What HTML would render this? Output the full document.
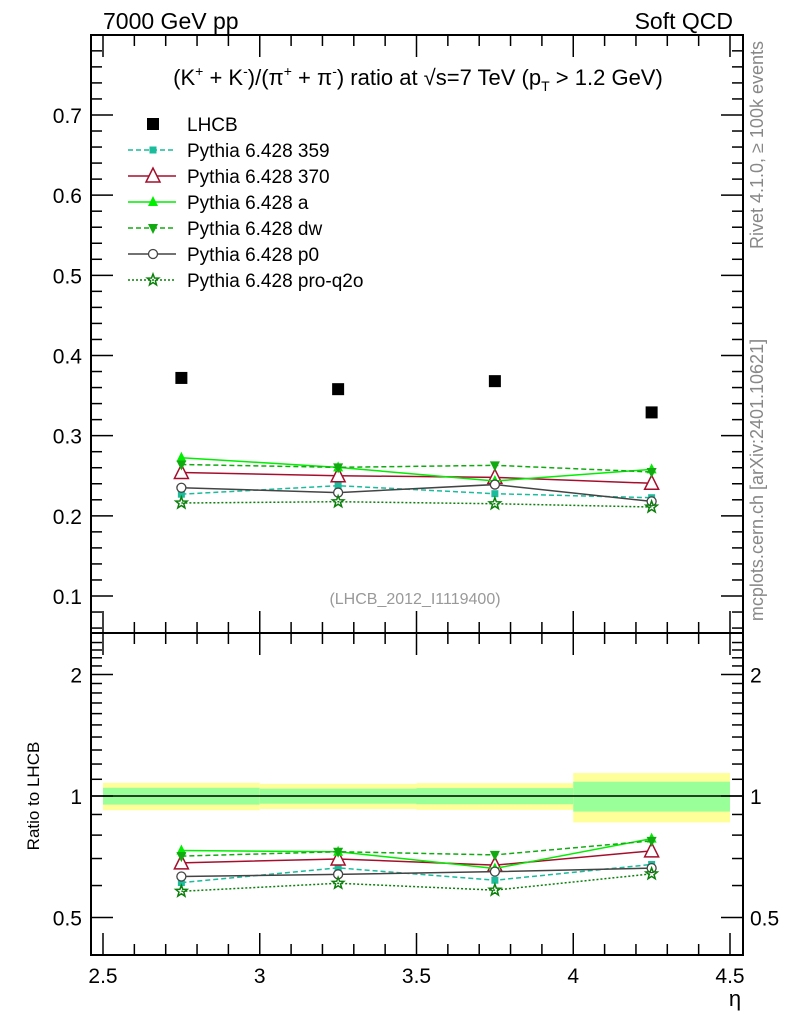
<!DOCTYPE html>
<html><head><meta charset="utf-8"><style>
body{margin:0;background:#fff;}
svg text{font-family:"Liberation Sans",sans-serif;}
</style></head><body>
<svg id="c" width="786" height="1024" xmlns="http://www.w3.org/2000/svg">
<text x="103" y="29" font-size="23">7000 GeV pp</text>
<text x="733" y="29" font-size="23" text-anchor="end">Soft QCD</text>
<text x="418" y="85" font-size="22" text-anchor="middle">(K<tspan font-size="14" dy="-9">+</tspan><tspan dy="9"> + K</tspan><tspan font-size="14" dy="-9">-</tspan><tspan dy="9">)/(π</tspan><tspan font-size="14" dy="-9">+</tspan><tspan dy="9"> + π</tspan><tspan font-size="14" dy="-9">-</tspan><tspan dy="9">) ratio at √s=7 TeV (p</tspan><tspan font-size="14" dy="6">T</tspan><tspan dy="-6"> &gt; 1.2 GeV)</tspan></text>
<text transform="translate(763,145) rotate(-90)" font-size="18" fill="#888" text-anchor="middle">Rivet 4.1.0, ≥ 100k events</text>
<text transform="translate(763,480) rotate(-90)" font-size="18" fill="#888" text-anchor="middle">mcplots.cern.ch [arXiv:2401.10621]</text>
<text x="415" y="604" font-size="16" fill="#999" text-anchor="middle">(LHCB_2012_I1119400)</text>
<text transform="translate(39,796) rotate(-90)" font-size="17" text-anchor="middle">Ratio to LHCB</text>
<text x="735" y="1006" font-size="22" text-anchor="middle">η</text>
<g id="g"></g>
</svg>
<script>
const etas=[2.75,3.25,3.75,4.25];
const binEdges=[2.5,3,3.5,4,4.5];
const lhcb=[0.372,0.358,0.368,0.329];
const relTot=[0.078,0.072,0.076,0.14];
const relStat=[0.048,0.043,0.046,0.085];
const p359=[0.227,0.2376,0.2276,0.2226];
const p370=[0.254,0.250,0.248,0.2406];
const pa=[0.2725,0.2605,0.2434,0.258];
const pdw=[0.264,0.2605,0.263,0.2547];
const pp0=[0.235,0.229,0.239,0.218];
const pq2o=[0.216,0.2176,0.2151,0.211];
const xTicks=[2.5,3,3.5,4,4.5];
const yTicks=[0.1,0.2,0.3,0.4,0.5,0.6,0.7];
const rTicks=[0.5,1,2];

const NS="http://www.w3.org/2000/svg";
const g=document.getElementById('g');
const L=91,R=743,T=35,M=633,B=955;
const X=v=>103+(v-2.5)*313.5;
const Y=v=>596-(v-0.1)*801.7;
const RY=v=>796-Math.log2(v)*121.5;
function el(tag,at,parent){const e=document.createElementNS(NS,tag);for(const k in at)e.setAttribute(k,at[k]);(parent||g).appendChild(e);return e;}

for(let i=0;i<4;i++){
 const b1=el('rect',{x:X(binEdges[i]),y:RY(1+relTot[i]),width:X(binEdges[i+1])-X(binEdges[i]),height:RY(1-relTot[i])-RY(1+relTot[i]),fill:'#ffff99'});
 
 
 const b2=el('rect',{x:X(binEdges[i]),y:RY(1+relStat[i]),width:X(binEdges[i+1])-X(binEdges[i]),height:RY(1-relStat[i])-RY(1+relStat[i]),fill:'#99ff99'});
 
 
}
const one=el('line',{x1:L,x2:R,y1:RY(1),y2:RY(1),stroke:'#000','stroke-width':1.5});



for(const [y1,y2,n] of [[T,M,'main-frame'],[M,B,'ratio-frame']]){
 const f=el('rect',{x:L,y:y1,width:R-L,height:y2-y1,fill:'none',stroke:'#000','stroke-width':2});
 
 
}
for(let v=2.5;v<=4.501;v+=0.1){
 const maj=Math.abs(v*2-Math.round(v*2))<1e-6;const len=maj?22:11;
 for(const [yb,dir] of [[T,1],[M,-1],[M,1],[B,-1]]){
  el('line',{x1:X(v),x2:X(v),y1:yb,y2:yb+dir*len,stroke:'#000','stroke-width':1.5});
 }
}
xTicks.forEach(v=>{const t=el('text',{x:X(v),y:983,'font-size':21,'text-anchor':'middle'});t.textContent=String(v);
 
 });
for(let v=0.06;v<=0.8;v+=0.02){
 const maj=Math.abs(v*10-Math.round(v*10))<1e-6;const len=maj?22:11;const y=Y(v);
 if(y<T||y>M)continue;
 el('line',{x1:L,x2:L+len,y1:y,y2:y,stroke:'#000','stroke-width':1.5});
 el('line',{x1:R,x2:R-len,y1:y,y2:y,stroke:'#000','stroke-width':1.5});
}
yTicks.forEach(v=>{const t=el('text',{x:82,y:Y(v)+8,'font-size':21,'text-anchor':'end'});t.textContent=v.toFixed(1);
 
 });
for(let v=0.5;v<=2.5;v+=0.1){
 const maj=rTicks.some(r=>Math.abs(r-v)<1e-6);const len=maj?22:11;const y=RY(v);
 if(y<M||y>B)continue;
 el('line',{x1:L,x2:L+len,y1:y,y2:y,stroke:'#000','stroke-width':1.5});
 el('line',{x1:R,x2:R-len,y1:y,y2:y,stroke:'#000','stroke-width':1.5});
}
rTicks.forEach(v=>{
 const t=el('text',{x:82,y:RY(v)+8,'font-size':21,'text-anchor':'end'});t.textContent=String(v);
 
 
 const t2=el('text',{x:750,y:RY(v)+8,'font-size':21});t2.textContent=String(v);
 
 
});

function marker(kind,x,y,col,parent){
 if(kind==='sq') return el('rect',{x:x-3.5,y:y-3.5,width:7,height:7,fill:col},parent);
 if(kind==='bigsq') return el('rect',{x:x-6,y:y-6,width:12,height:12,fill:col},parent);
 if(kind==='otri') return el('polygon',{points:`${x},${y-8} ${x-7},${y+6} ${x+7},${y+6}`,fill:'#fff',stroke:col,'stroke-width':1.5},parent);
 if(kind==='tri') return el('polygon',{points:`${x},${y-6} ${x-5},${y+4} ${x+5},${y+4}`,fill:col},parent);
 if(kind==='dtri') return el('polygon',{points:`${x},${y+6} ${x-5},${y-4} ${x+5},${y-4}`,fill:col},parent);
 if(kind==='circ') return el('circle',{cx:x,cy:y,r:4.5,fill:'#fff',stroke:col,'stroke-width':1.3},parent);
 if(kind==='star'){let p=[];for(let i=0;i<10;i++){const r=i%2?2.5:6;const a=-Math.PI/2+i*Math.PI/5;p.push((x+r*Math.cos(a)).toFixed(1)+','+(y+r*Math.sin(a)).toFixed(1));}
  return el('polygon',{points:p.join(' '),fill:'none',stroke:col,'stroke-width':1.5},parent);}
}
const series=[
 {name:'Pythia 6.428 359',v:p359,col:'#1abc9c',dash:'5,3',m:'sq',id:'p359'},
 {name:'Pythia 6.428 370',v:p370,col:'#a50f2d',dash:'',m:'otri',id:'p370'},
 {name:'Pythia 6.428 a',v:pa,col:'#00ee00',dash:'',m:'tri',id:'pa'},
 {name:'Pythia 6.428 dw',v:pdw,col:'#11aa11',dash:'5,3',m:'dtri',id:'pdw'},
 {name:'Pythia 6.428 p0',v:pp0,col:'#444444',dash:'',m:'circ',id:'pp0'},
 {name:'Pythia 6.428 pro-q2o',v:pq2o,col:'#0a800a',dash:'2,2',m:'star',id:'pq2o'}
];
series.forEach(s=>{
 for(const [fy,vals,tag] of [[Y,s.v,'main'],[RY,s.v.map((v,i)=>v/lhcb[i]),'ratio']]){
  const grp=el('g',{});
  
  
  el('polyline',{points:etas.map((e,i)=>X(e)+','+fy(vals[i])).join(' '),fill:'none',stroke:s.col,'stroke-width':1.5,'stroke-dasharray':s.dash},grp);
  etas.forEach((e,i)=>{const mk=marker(s.m,X(e),fy(vals[i]),s.col,grp);
   
   });
 }
});
etas.forEach((e,i)=>{const mk=marker('bigsq',X(e),Y(lhcb[i]),'#000');
 
 });

const lg=el('g',{});


const ly0=124,ldy=26;
marker('bigsq',153,ly0,'#000',lg);
let t0=el('text',{x:187,y:ly0+7,'font-size':19},lg);t0.textContent='LHCB';
series.forEach((s,i)=>{const y=ly0+ldy*(i+1);
 el('line',{x1:128,x2:176,y1:y,y2:y,stroke:s.col,'stroke-width':1.5,'stroke-dasharray':s.dash},lg);
 marker(s.m,153,y,s.col,lg);
 const t=el('text',{x:187,y:y+7,'font-size':19},lg);t.textContent=s.name;
 
 
});
</script>
</body></html>
